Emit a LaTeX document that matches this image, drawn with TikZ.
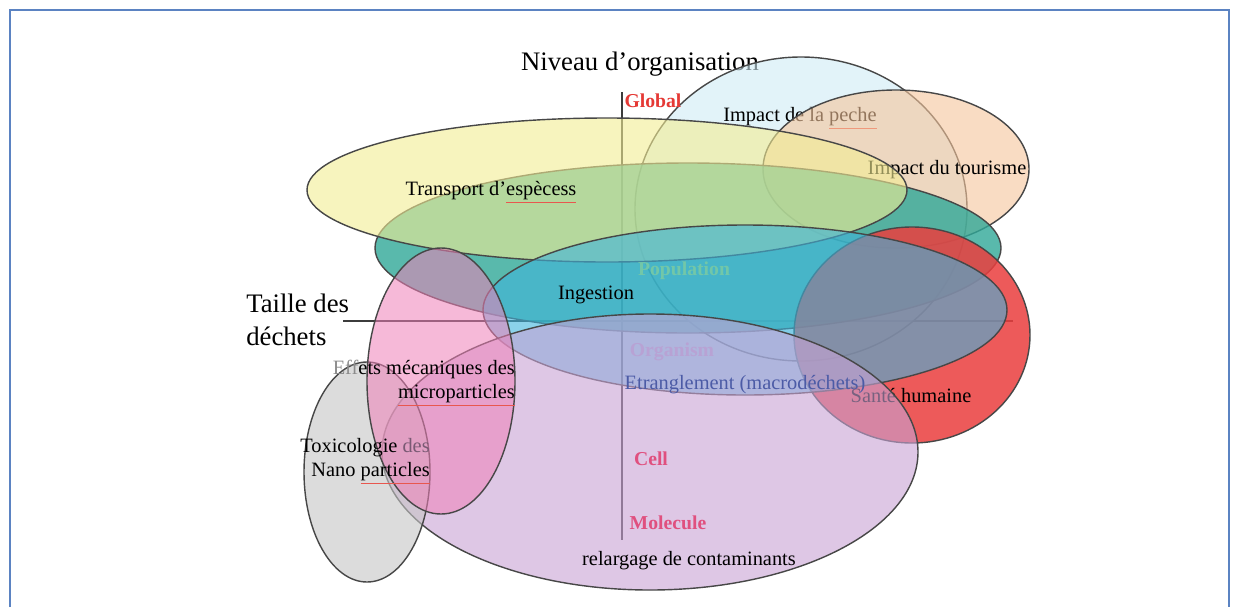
\documentclass[tikz,border=0pt]{standalone}
\usepackage{fontspec}
\setmainfont{Liberation Serif}

\definecolor{borderblue}{HTML}{5B83C2}
\definecolor{axisgray}{HTML}{3C3C3C}
\definecolor{skyzone}{HTML}{CFEBF5}
\definecolor{peachzone}{HTML}{F5C59B}
\definecolor{yellowzone}{HTML}{F3ED93}
\definecolor{tealzone}{HTML}{30A898}
\definecolor{redzone}{HTML}{EB3E3E}
\definecolor{cyanzone}{HTML}{3FB4DC}
\definecolor{lilaczone}{HTML}{C8A3D5}
\definecolor{grayzone}{HTML}{C5C5C5}
\definecolor{pinkzone}{HTML}{F080B8}
\definecolor{spellred}{HTML}{E8574F}
\definecolor{globalred}{HTML}{E53935}
\definecolor{popteal}{HTML}{72C7A8}
\definecolor{orglilac}{HTML}{B8A2D4}
\definecolor{cellpink}{HTML}{E0507F}
\definecolor{etrblue}{HTML}{4C5BA6}
\definecolor{fademauve}{HTML}{7A5A74}

\newcommand{\spellerr}[1]{\textcolor{spellred}{\underline{\textcolor{black}{#1}}}}

\begin{document}
\begin{tikzpicture}[x=0.025cm, y=-0.025cm,
  zone/.style={draw=black!72, line width=1pt},
  lbl/.style={font=\fontsize{14.5}{17.5}\selectfont, inner sep=0pt},
  lvl/.style={font=\fontsize{14}{16}\selectfont\bfseries, inner sep=0pt},
  axtitle/.style={font=\fontsize{19}{23.5}\selectfont, inner sep=0pt}]
\useasboundingbox (0,0) rectangle (1239,607);
\fill[white] (0,0) rectangle (1239,607);

% Frame
\draw[borderblue, line width=1.5pt] (10,607) -- (10,10) -- (1229,10) -- (1229,607);

% Axes
\coordinate (vtop) at (622,92);
\coordinate (vbot) at (622,540);
\coordinate (hleft) at (343,321);
\coordinate (hright) at (1013,321);
\draw[axisgray, line width=0.9pt] (vtop) -- (vbot);
\draw[axisgray, line width=0.9pt] (hleft) -- (hright);
\node[axtitle] (niveau) at (640,64) {Niveau d'organisation};
\node[axtitle, align=left, anchor=west] (taille) at (246,320) {Taille des\\déchets};

% Impact zones (top)
\draw[zone, fill=skyzone, fill opacity=.6] (801,209) ellipse [x radius=166, y radius=152];
\node[lbl] (peche) at (800,118) {Impact de la \spellerr{peche}};
\draw[zone, fill=peachzone, fill opacity=.6] (896,169) ellipse [x radius=133, y radius=79];
\node[lbl] (tourisme) at (947,170) {Impact du tourisme};

% Population zones
\draw[zone, fill=tealzone, fill opacity=.8] (688,248) ellipse [x radius=313, y radius=85];
\draw[zone, fill=yellowzone, fill opacity=.6] (607,190) ellipse [x radius=300, y radius=72];
\node[lbl] (transport) at (491,192) {Transport d'\spellerr{espècess}};

% Organism zones
\draw[zone, fill=redzone, fill opacity=.85] (912,335) ellipse [x radius=118, y radius=108];
\draw[zone, fill=cyanzone, fill opacity=.6] (745,310) ellipse [x radius=262, y radius=85];
\node[lbl] (ingestion) at (596,295) {Ingestion};
\node[lbl] (sante) at (911,396) {Santé humaine};

% Cell and molecule zones
\draw[zone, fill=lilaczone, fill opacity=.6] (650,452) ellipse [x radius=268, y radius=138];
\draw[zone, fill=grayzone, fill opacity=.6] (367,472) ellipse [x radius=63, y radius=110];
\draw[zone, fill=pinkzone, fill opacity=.55] (441,381) ellipse [x radius=74, y radius=133];

% Labels on top
\node[lbl] (etranglement) at (745,385) {\textcolor{etrblue}{Etranglement (macrodéchets)}};
\node[lbl] (relargage) at (689,561) {relargage de contaminants};
\node[lbl, align=right, anchor=east] (effets) at (515,383)
  {\textcolor{black!45}{Eff}ets mécaniques des\\\spellerr{microparticles}};
\node[lbl, align=right, anchor=east] (toxico) at (430,461)
  {Toxicologie \textcolor{fademauve}{des}\\Nano \spellerr{particles}};

% Levels of organisation
\node[lvl, text=globalred] (global) at (653,101) {Global};
\node[lvl, text=popteal] (population) at (684,271) {Population};
\node[lvl, text=orglilac] (organism) at (672,352) {Organism};
\node[lvl, text=cellpink] (cell) at (651,459) {Cell};
\node[lvl, text=cellpink] (molecule) at (668,523) {Molecule};
\end{tikzpicture}
\end{document}
